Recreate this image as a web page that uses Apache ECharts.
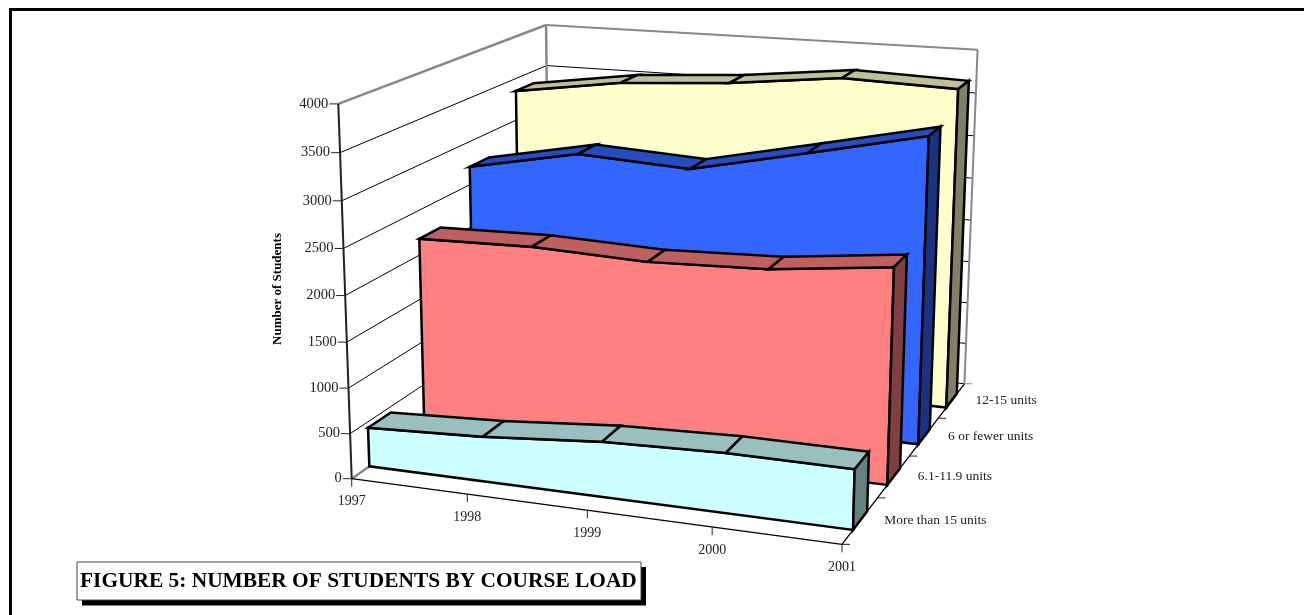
<!DOCTYPE html>
<html><head><meta charset="utf-8">
<style>html,body{margin:0;padding:0;background:#fff}#c{width:1304px;height:615px}</style>
<script src="https://cdn.jsdelivr.net/npm/echarts@6/dist/echarts.min.js"></script>
</head><body><div id="c"></div>
<script>
const years = ['1997','1998','1999','2000','2001'];
const depthLabels = ['More than 15 units','6.1-11.9 units','6 or fewer units','12-15 units'];
const valueTicks = [0,500,1000,1500,2000,2500,3000,3500,4000];
const moreThan15 = [434,492,598,642,637];
const units6to12 = [2182,2209,2163,2205,2350];
const units6less = [2708,2957,2886,3161,3443];
const units12to15 = [3351,3533,3613,3753,3710];

const anchors = [
 [0,0,0,353,478],[0,1,0,337,104],[1,0,0,842,545],[1,0,1,965,383],[1,1,1,977,50],[0,1,1,547.7,24.7],[0,0,1,548,340]];
function solve(A,b){const n=b.length;const M=A.map((r,i)=>[...r,b[i]]);
 for(let i=0;i<n;i++){let p=i;for(let k=i+1;k<n;k++)if(Math.abs(M[k][i])>Math.abs(M[p][i]))p=k;[M[i],M[p]]=[M[p],M[i]];
  for(let k=i+1;k<n;k++){const f=M[k][i]/M[i][i];for(let j=i;j<=n;j++)M[k][j]-=f*M[i][j];}}
 const x=new Array(n);for(let i=n-1;i>=0;i--){let s=M[i][n];for(let j=i+1;j<n;j++)s-=M[i][j]*x[j];x[i]=s/M[i][i];}return x;}
const cam=(()=>{const R=[],Y=[];anchors.forEach(([u,v,w,x,y])=>{
 R.push([u,v,w,1,0,0,0,0,-x*u,-x*v,-x*w]);Y.push(x);
 R.push([0,0,0,0,u,v,w,1,-y*u,-y*v,-y*w]);Y.push(y);});
 const N=Array.from({length:11},(_,i)=>Array.from({length:11},(_,j)=>R.reduce((s,r)=>s+r[i]*r[j],0)));
 const b=Array.from({length:11},(_,i)=>R.reduce((s,r,k)=>s+r[i]*Y[k],0));return solve(N,b);})();
function project(u,v,w){const d=cam[8]*u+cam[9]*v+cam[10]*w+1;
 return [(cam[0]*u+cam[1]*v+cam[2]*w+cam[3])/d,(cam[4]*u+cam[5]*v+cam[6]*w+cam[7])/d];}

const chart=echarts.init(document.getElementById('c'),null,{renderer:'canvas'});
const W=1304,H=615;
function at(api,i,val,w){const c=api.coord([i,val]);return project(c[0]/W,1-c[1]/H,w);}
const lineEl=(a,b,color,width)=>({type:'line',shape:{x1:a[0],y1:a[1],x2:b[0],y2:b[1]},style:{stroke:color,lineWidth:width,fill:null}});
const textEl=(t,x,y,align,font)=>({type:'text',style:{text:t,x,y,align,verticalAlign:'middle',font:font,fill:'#222'}});
function renderAxes(params,api){
 const n=years.length-1,top=valueTicks[valueTicks.length-1],ch=[];
 valueTicks.forEach(t=>{
  const a=at(api,0,t,0),d=at(api,0,t,1),c=at(api,n,t,1);
  if(t!==0&&t!==top){ch.push(lineEl(a,d,'#000',1),lineEl(d,c,'#000',1));}
  ch.push(lineEl([a[0]-9,a[1]],a,'#222',1));
  ch.push(textEl(String(t),a[0]-10,a[1],'right','14.5px "Liberation Serif"'));
 });
 const A=at(api,0,0,0),At=at(api,0,top,0),D=at(api,0,0,1),Dt=at(api,0,top,1),C=at(api,n,0,1),Ct=at(api,n,top,1),B=at(api,n,0,0);
 ch.push(lineEl(D,C,'#000',1));
 ch.push(lineEl(A,D,'#888',2.5),lineEl(At,Dt,'#888',2.5),lineEl(Dt,D,'#888',2.5),lineEl(Dt,Ct,'#888',2),lineEl(Ct,C,'#888',2));
 ch.push(lineEl(A,At,'#222',2),lineEl(A,B,'#000',1.3),lineEl(B,C,'#000',1.3));
 years.forEach((y,i)=>{const p=at(api,i,0,0);ch.push(lineEl(p,[p[0],p[1]+8],'#222',1));ch.push(textEl(y,p[0],p[1]+23,'center','14px "Liberation Serif"'));});
 for(let k=0;k<=depthLabels.length;k++){const p=at(api,n,0,k/depthLabels.length);ch.push(lineEl(p,[p[0]+8,p[1]],k===4?'#888':'#222',1));}
 depthLabels.forEach((t,k)=>{const p=at(api,n,0,(k+.5)/depthLabels.length);ch.push(textEl(t,p[0]+24,p[1],'left','13.5px "Liberation Serif"'));});
 ch.push({type:'text',rotation:Math.PI/2,x:278,y:289,style:{text:'Number of Students',align:'center',verticalAlign:'middle',font:'bold 13px "Liberation Serif"',fill:'#000'}});
 return {type:'group',children:ch};
}
function makeBox(k,values,front,topc,side){
 return {type:'custom',name:depthLabels[k],coordinateSystem:'cartesian2d',silent:true,animation:false,
  data:values.map((v,i)=>[i,v]),clip:false,
  renderItem(params,api){
   if(params.dataIndex!==0)return null;
   const w1=(k+.3)/4,w2=(k+.7)/4,n=values.length-1,ch=[];
   const f=values.map((v,i)=>at(api,i,v,w1)),b=values.map((v,i)=>at(api,i,v,w2));
   const st=(c)=>({fill:c,stroke:'#000',lineWidth:2.5,lineJoin:'miter'});
   ch.push({type:'polygon',shape:{points:[at(api,0,0,w1),...f,at(api,n,0,w1)]},style:st(front)});
   for(let i=n-1;i>=0;i--)ch.push({type:'polygon',shape:{points:[f[i],f[i+1],b[i+1],b[i]]},style:st(topc)});
   ch.push({type:'polygon',shape:{points:[f[n],b[n],at(api,n,0,w2),at(api,n,0,w1)]},style:st(side)});
   return {type:'group',children:ch};
  }};
}
chart.setOption({
 animation:false,
 grid:{left:0,right:0,top:0,bottom:0,show:false},
 xAxis:{type:'category',data:years,boundaryGap:false,show:false},
 yAxis:{type:'value',min:0,max:4000,interval:500,show:false},
 graphic:[
  {type:'rect',shape:{x:9,y:8,width:1295,height:3},style:{fill:'#000'}},
  {type:'rect',shape:{x:9,y:8,width:3,height:607},style:{fill:'#000'}},
  {type:'rect',shape:{x:82,y:567,width:564,height:38.5},style:{fill:'#000'}},
  {type:'rect',shape:{x:77,y:562,width:564,height:38},style:{fill:'#fff',stroke:'#444',lineWidth:1}},
  {type:'text',style:{x:80,y:581,text:'FIGURE 5: NUMBER OF STUDENTS BY COURSE LOAD',font:'bold 21.4px "Liberation Serif"',fill:'#000',verticalAlign:'middle'}}
 ],
 series:[
  {type:'custom',name:'axes',silent:true,animation:false,clip:false,data:[[0,0]],renderItem:renderAxes},
  makeBox(3,units12to15,'#FFFFCC','#BFBF99','#808066'),
  makeBox(2,units6less,'#3366FF','#264DBF','#1A3380'),
  makeBox(1,units6to12,'#FF8080','#BF6060','#804040'),
  makeBox(0,moreThan15,'#CCFFFF','#99BFBF','#668080')
 ]
});
</script></body></html>
